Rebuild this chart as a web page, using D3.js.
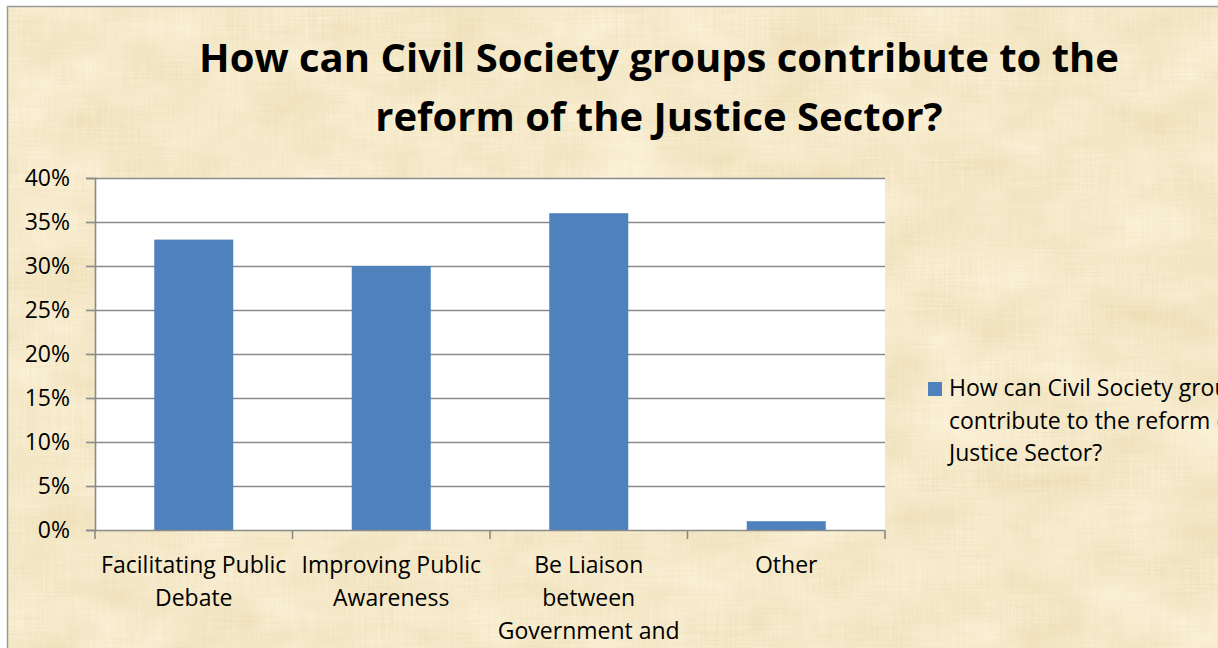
<!DOCTYPE html>
<html>
<head>
<meta charset="utf-8">
<script src="https://cdn.jsdelivr.net/npm/d3@7"></script>
<style>
  html, body { margin: 0; padding: 0; background: #ffffff; overflow: hidden; }
  svg { display: block; }
  text { font-family: "Open Sans", Lato, sans-serif; fill: #000; }
</style>
</head>
<body>
<svg id="chart" width="1218" height="648"></svg>
<script>
// Survey results: share of respondents per answer
const categories = [
  ["Facilitating Public", "Debate"],
  ["Improving Public", "Awareness"],
  ["Be Liaison", "between", "Government and", "Civil Society"],
  ["Other"]
];
const values = [0.33, 0.30, 0.36, 0.01];
const yTicks = [0, 0.05, 0.10, 0.15, 0.20, 0.25, 0.30, 0.35, 0.40];
const titleLines = ["How can Civil Society groups contribute to the", "reform of the Justice Sector?"];
const legendLines = ["How can Civil Society groups", "contribute to the reform of the", "Justice Sector?"];

const W = 1218, H = 648;
const svg = d3.select("#chart");
const defs = svg.append("defs");

// Parchment texture: mottled base plus fine horizontal/vertical fibres
const f = defs.append("filter").attr("id", "paper")
  .attr("x", 0).attr("y", 0).attr("width", "100%").attr("height", "100%");
f.append("feTurbulence").attr("type", "fractalNoise")
  .attr("baseFrequency", "0.012 0.02").attr("numOctaves", 3).attr("seed", 7).attr("result", "blot");
f.append("feTurbulence").attr("type", "fractalNoise")
  .attr("baseFrequency", "0.5 0.02").attr("numOctaves", 2).attr("seed", 3).attr("result", "vfib");
f.append("feTurbulence").attr("type", "fractalNoise")
  .attr("baseFrequency", "0.02 0.5").attr("numOctaves", 2).attr("seed", 11).attr("result", "hfib");
f.append("feComposite").attr("in", "vfib").attr("in2", "hfib")
  .attr("operator", "arithmetic").attr("k2", 0.5).attr("k3", 0.5).attr("result", "fib");
f.append("feComposite").attr("in", "blot").attr("in2", "fib")
  .attr("operator", "arithmetic").attr("k2", 0.55).attr("k3", 0.45).attr("result", "mix");
f.append("feColorMatrix").attr("in", "mix").attr("type", "matrix")
  .attr("values", [
    0.24, 0, 0, 0, 0.79,
    0.30, 0, 0, 0, 0.66,
    0.44, 0, 0, 0, 0.36,
    0,    0, 0, 0, 1
  ].join(" "));

// Chart area with its grey frame
svg.append("rect").attr("x", 7).attr("y", 6).attr("width", W).attr("height", H)
  .attr("fill", "#e8d096");
svg.append("rect").attr("x", 7).attr("y", 6).attr("width", W).attr("height", H)
  .attr("filter", "url(#paper)");
svg.append("rect").attr("x", 7.5).attr("y", 6.5).attr("width", W).attr("height", H)
  .attr("fill", "none").attr("stroke", "#9a9a9a").attr("stroke-width", 1.5);

// Title
svg.append("text")
  .attr("x", 659).attr("y", 72)
  .attr("text-anchor", "middle")
  .style("font-size", "40px").style("font-weight", "bold")
  .selectAll("tspan").data(titleLines).join("tspan")
  .attr("x", 659).attr("dy", (d, i) => i === 0 ? 0 : 59)
  .text(d => d);

// Plot area
const plot = { left: 95, right: 885, top: 178, bottom: 530 };
const x = d3.scaleBand().domain(d3.range(values.length))
  .range([plot.left, plot.right]).paddingInner(0.6).paddingOuter(0.3);
const xEdges = d3.scaleLinear().domain([0, values.length]).range([plot.left, plot.right]);
const y = d3.scaleLinear().domain([0, 0.40]).range([plot.bottom, plot.top]);

svg.append("rect")
  .attr("x", plot.left).attr("y", plot.top)
  .attr("width", plot.right - plot.left).attr("height", plot.bottom - plot.top)
  .attr("fill", "#ffffff");

// Horizontal gridlines
svg.append("g").selectAll("line").data(yTicks.filter(t => t > 0)).join("line")
  .attr("x1", plot.left).attr("x2", plot.right)
  .attr("y1", d => Math.round(y(d)) + 0.5).attr("y2", d => Math.round(y(d)) + 0.5)
  .attr("stroke", "#8a8a8a").attr("stroke-width", 1.6);

// Bars
svg.append("g").selectAll("rect").data(values).join("rect")
  .attr("x", (d, i) => x(i)).attr("width", x.bandwidth())
  .attr("y", d => y(d)).attr("height", d => y(0) - y(d))
  .attr("fill", "#4f81bd");

// Y axis
const yAxis = d3.axisLeft(y).tickValues(yTicks).tickFormat(d3.format(".0%"))
  .tickSize(9).tickPadding(16);
const gy = svg.append("g").attr("transform", `translate(${plot.left},0)`).call(yAxis);
gy.select(".domain").attr("stroke", "#8a8a8a").attr("stroke-width", 1.6);
gy.selectAll(".tick line").attr("stroke", "#8a8a8a").attr("stroke-width", 1.6);
gy.selectAll(".tick text").style("font-size", "23px")
  .style("font-family", "\"Open Sans\", Lato, sans-serif").attr("fill", "#000");

// X axis: baseline and category separators
const gx = svg.append("g");
gx.append("line")
  .attr("x1", plot.left).attr("x2", plot.right)
  .attr("y1", plot.bottom + 0.5).attr("y2", plot.bottom + 0.5)
  .attr("stroke", "#8a8a8a").attr("stroke-width", 1.6);
gx.selectAll("line.sep").data(d3.range(values.length + 1)).join("line")
  .attr("class", "sep")
  .attr("x1", d => xEdges(d)).attr("x2", d => xEdges(d))
  .attr("y1", plot.bottom).attr("y2", plot.bottom + 9)
  .attr("stroke", "#8a8a8a").attr("stroke-width", 1.6);

// Category labels
gx.selectAll("text.cat").data(categories).join("text")
  .attr("class", "cat")
  .attr("text-anchor", "middle")
  .style("font-size", "23px")
  .each(function(lines, i) {
    const cx = x(i) + x.bandwidth() / 2;
    d3.select(this).selectAll("tspan").data(lines).join("tspan")
      .attr("x", cx).attr("y", (d, j) => 573 + j * 33)
      .text(d => d);
  });

// Legend
const lg = svg.append("g");
lg.append("rect").attr("x", 928).attr("y", 382).attr("width", 14).attr("height", 14)
  .attr("fill", "#4f81bd");
lg.append("text").style("font-size", "23px")
  .selectAll("tspan").data(legendLines).join("tspan")
  .attr("x", 949).attr("y", (d, i) => 396 + i * 32.5)
  .text(d => d);
</script>
</body>
</html>
